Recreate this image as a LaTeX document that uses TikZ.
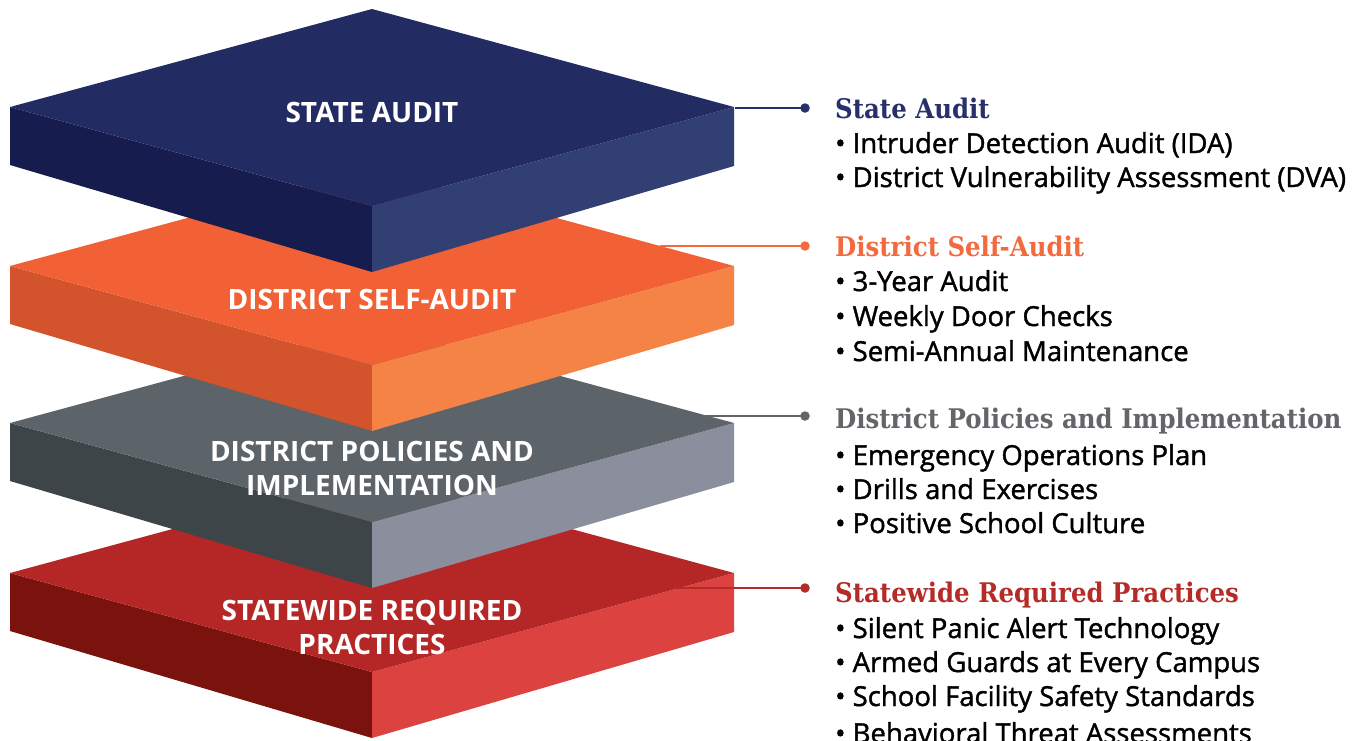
\documentclass[tikz,border=0pt]{standalone}
\usepackage{fontspec}
\setmainfont{Open Sans}
\newfontfamily\titlefam{DejaVu Serif}
\newfontfamily\bulfam[FakeBold=1.4]{Open Sans}
\definecolor{bluetop}{HTML}{222C63}
\definecolor{blueleft}{HTML}{161C4E}
\definecolor{blueright}{HTML}{323F73}
\definecolor{orgtop}{HTML}{F26036}
\definecolor{orgleft}{HTML}{D2532C}
\definecolor{orgright}{HTML}{F58346}
\definecolor{graytop}{HTML}{5C6369}
\definecolor{grayleft}{HTML}{3E4549}
\definecolor{grayright}{HTML}{8B8F9D}
\definecolor{redtop}{HTML}{B52726}
\definecolor{redleft}{HTML}{7A120D}
\definecolor{redright}{HTML}{DB4240}
\definecolor{tnavy}{HTML}{27306A}
\definecolor{torange}{HTML}{F26A3D}
\definecolor{tgray}{HTML}{636569}
\definecolor{tred}{HTML}{B52B27}
\newcommand{\ttl}[1]{\scalebox{0.905}[1]{#1}}
\tikzset{
  slablabel/.style={text=white, font=\bfseries\fontsize{28}{34}\selectfont, align=center, inner sep=0pt},
  titletext/.style={anchor=base west, inner sep=0pt, font=\titlefam\bfseries\fontsize{27}{32}\selectfont},
  bullettext/.style={anchor=base west, inner sep=0pt, text=black, font=\bulfam\fontsize{27.5}{34}\selectfont},
  dotnode/.style={circle, inner sep=0pt, minimum size=9.5pt},
  conn/.style={line width=2.2pt},
}
% slab: #2 centre y of top face, then left, right and top colours
\newcommand{\myslab}[5]{%
  \fill[#3] (10,#2) -- (372,#2+99) -- (372,#2+165) -- (10,#2+58) -- cycle;
  \fill[#4] (734,#2) -- (372,#2+99) -- (372,#2+165) -- (734,#2+59) -- cycle;
  \fill[#5] (372,#2-98) -- (734,#2) -- (372,#2+99) -- (10,#2) -- cycle;
}
\begin{document}
\begin{tikzpicture}[x=1pt,y=-1pt]
\useasboundingbox (0,0) rectangle (1367,740);
\fill[white] (0,0) rectangle (1367,740);
\myslab{372}{573}{redleft}{redright}{redtop}
\myslab{372}{423}{grayleft}{grayright}{graytop}
\myslab{372}{266}{orgleft}{orgright}{orgtop}
\myslab{372}{107}{blueleft}{blueright}{bluetop}

\node[slablabel] (l1) at (372,112) {STATE AUDIT};
\node[slablabel] (l2) at (372,299) {DISTRICT SELF-AUDIT};
\node[slablabel] (l3) at (372,468) {DISTRICT POLICIES AND\\IMPLEMENTATION};
\node[slablabel] (l4) at (372,627) {STATEWIDE REQUIRED\\PRACTICES};

\coordinate (s1) at (735,108);
\coordinate (s2) at (660,246);
\coordinate (s3) at (703,416);
\coordinate (s4) at (674,588);
\node[dotnode, fill=tnavy] (d1) at (805,108) {};
\node[dotnode, fill=torange] (d2) at (805,246) {};
\node[dotnode, fill=tgray] (d3) at (805,416) {};
\node[dotnode, fill=tred] (d4) at (805,588) {};
\draw[conn, tnavy] (s1) -- (d1.center);
\draw[conn, torange] (s2) -- (d2.center);
\draw[conn, tgray] (s3) -- (d3.center);
\draw[conn, tred] (s4) -- (d4.center);

\node[titletext, text=tnavy] (t1) at (835,118) {\ttl{State Audit}};
\node[bullettext] (b11) at (835,153) {• Intruder Detection Audit (IDA)};
\node[bullettext] (b12) at (835,187) {• District Vulnerability Assessment (DVA)};

\node[titletext, text=torange] (t2) at (835,256) {\ttl{District Self-Audit}};
\node[bullettext] (b21) at (835,291) {• 3-Year Audit};
\node[bullettext] (b22) at (835,326) {• Weekly Door Checks};
\node[bullettext] (b23) at (835,361) {• Semi-Annual Maintenance};

\node[titletext, text=tgray] (t3) at (835,428) {\ttl{District Policies and Implementation}};
\node[bullettext] (b31) at (835,465) {• Emergency Operations Plan};
\node[bullettext] (b32) at (835,499) {• Drills and Exercises};
\node[bullettext] (b33) at (835,533) {• Positive School Culture};

\node[titletext, text=tred] (t4) at (835,602) {\ttl{Statewide Required Practices}};
\node[bullettext] (b41) at (835,638) {• Silent Panic Alert Technology};
\node[bullettext] (b42) at (835,672) {• Armed Guards at Every Campus};
\node[bullettext] (b43) at (835,706) {• School Facility Safety Standards};
\node[bullettext] (b44) at (835,743) {• Behavioral Threat Assessments};
\end{tikzpicture}
\end{document}
